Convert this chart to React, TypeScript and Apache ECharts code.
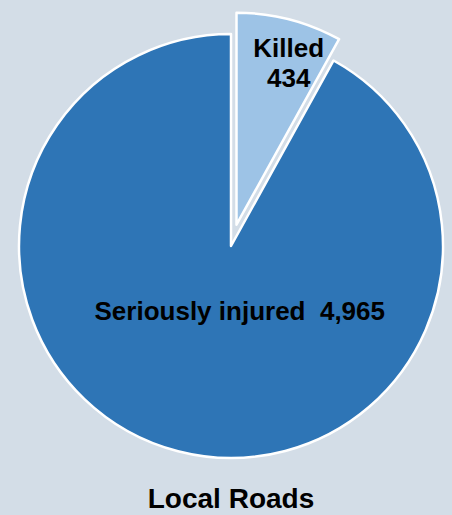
import React, { useEffect, useRef } from "react";
import * as echarts from "echarts";

const categories = ["Killed", "Seriously injured"];
const values = [434, 4965];
const colors = ["#9dc3e6", "#2e75b6"];
const chartTitle = "Local Roads";

const fmt = (v: number) => v.toLocaleString("en-US");

export default function App() {
  const ref = useRef<HTMLDivElement>(null);
  useEffect(() => {
    if (!ref.current) return;
    const chart = echarts.init(ref.current, null, { renderer: "svg" });
    const font = "'Liberation Sans', Arial, sans-serif";
    chart.setOption({
      animation: false,
      backgroundColor: "#d3dde7",
      graphic: [
        {
          type: "text",
          x: 231,
          y: 484,
          style: {
            text: chartTitle,
            textAlign: "center",
            fontSize: 28,
            fontWeight: "bold",
            fontFamily: font,
            fill: "#000",
          },
        },
      ],
      series: [
        {
          type: "pie",
          center: [231, 246],
          radius: [0, 212],
          startAngle: 90,
          clockwise: true,
          selectedMode: "single",
          selectedOffset: 22,
          emphasis: { disabled: true },
          itemStyle: { borderColor: "#ffffff", borderWidth: 2.5 },
          label: {
            show: true,
            position: "inside",
            fontFamily: font,
            fontWeight: "bold",
            fontSize: 26,
            lineHeight: 30,
            color: "#000",
          },
          labelLine: { show: false },
          labelLayout: (p: any) => {
            if (p.dataIndex === 0) return { dx: 25, dy: -56 };
            return { dx: 36, dy: -41 };
          },
          data: categories.map((c, i) => ({
            name: c,
            value: values[i],
            selected: i === 0,
            itemStyle: { color: colors[i] },
            select: { itemStyle: { color: colors[i], borderColor: "#ffffff", borderWidth: 2.5 } },
            label: {
              formatter:
                i === 0
                  ? `${c}\n${fmt(values[i])}`
                  : `${c}  ${fmt(values[i])}`,
            },
          })),
        },
      ],
    });
    return () => chart.dispose();
  }, []);
  return (
    <div
      ref={ref}
      style={{ position: "fixed", left: 0, top: 0, width: 452, height: 515 }}
    />
  );
}
